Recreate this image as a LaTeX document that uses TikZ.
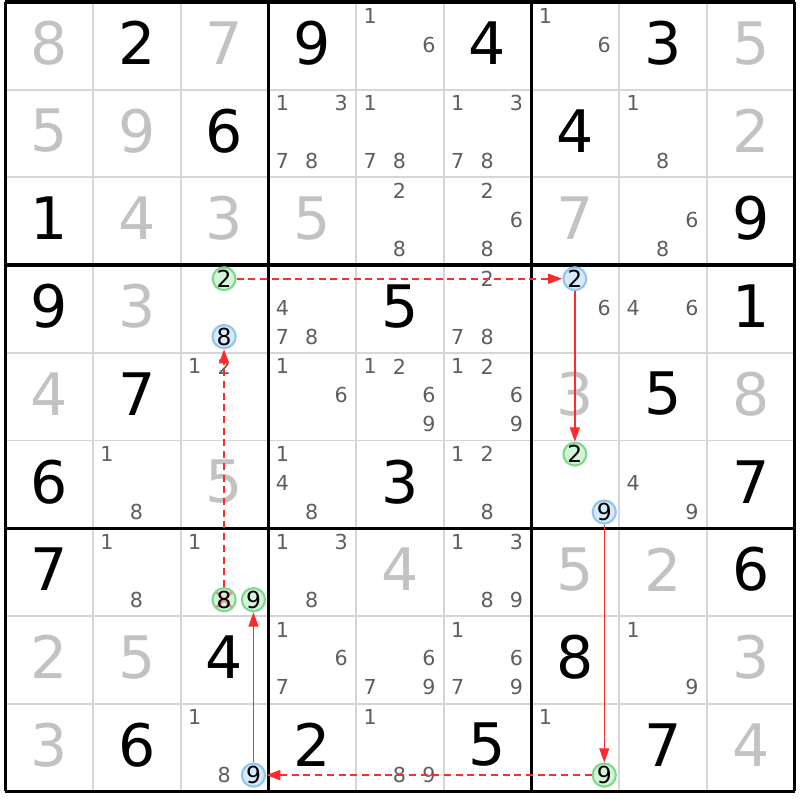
\documentclass[tikz,border=0pt]{standalone}
\usepackage{fontspec}
\setmainfont{DejaVu Sans}
\usetikzlibrary{arrows.meta}

\definecolor{linegray}{HTML}{D6D6D6}
\definecolor{solvedgray}{HTML}{C2C2C2}
\definecolor{candgray}{HTML}{5E5E5E}
\definecolor{ongreen}{HTML}{80D890}
\definecolor{ongreenfill}{HTML}{D4F4D8}
\definecolor{offblue}{HTML}{92C6F2}
\definecolor{offbluefill}{HTML}{D6EAFC}
\definecolor{linkred}{HTML}{FF2A2A}
\definecolor{cutred}{HTML}{F08C8C}

\tikzset{
  given/.style={font=\fontsize{19}{19}\selectfont, text=black, inner sep=0pt},
  solved/.style={given, text=solvedgray},
  cand/.style={font=\fontsize{6.7}{7}\selectfont, text=candgray, inner sep=0pt},
  oncand/.style={circle, draw=ongreen, fill=ongreenfill, line width=0.7pt, minimum size=0.25cm, inner sep=0pt, font=\fontsize{7.6}{8}\selectfont, text=black},
  offcand/.style={oncand, draw=offblue, fill=offbluefill},
  cutcand/.style={oncand, path picture={\draw[cutred, line width=0.8pt] (path picture bounding box.north west) -- (path picture bounding box.south east) (path picture bounding box.north east) -- (path picture bounding box.south west);}},
  strong/.style={linkred, line width=0.45pt, -{Triangle[length=4.6pt, width=3.2pt]}},
  weak/.style={strong, line width=0.6pt, dash pattern=on 2.3pt off 1.5pt}
}

\begin{document}
\begin{tikzpicture}
    \useasboundingbox (-0.06,-0.099) rectangle (9.062,9.023);
    \draw[linegray, line width=0.6pt] (0,0) grid (9,9);
    \draw[black, line width=1.1pt] (0,0) grid[step=3] (9,9);
    % givens
    \foreach \r/\c/\d in {1/2/2, 1/4/9, 1/6/4, 1/8/3, 2/3/6, 2/7/4, 3/1/1, 3/9/9,
        4/1/9, 4/5/5, 4/9/1, 5/2/7, 5/8/5, 6/1/6, 6/5/3, 6/9/7, 7/1/7, 7/9/6,
        8/3/4, 8/7/8, 9/2/6, 9/4/2, 9/6/5, 9/8/7}
      \node [given] (v\r\c) at (\c-0.5,9.53-\r) {\d};
    % solved
    \foreach \r/\c/\d in {1/1/8, 1/3/7, 1/9/5, 2/1/5, 2/2/9, 2/9/2, 3/2/4, 3/3/3, 3/4/5, 3/7/7,
        4/2/3, 5/1/4, 5/7/3, 5/9/8, 6/3/5, 7/5/4, 7/7/5, 7/8/2, 8/1/2, 8/2/5, 8/9/3,
        9/1/3, 9/9/4}
      \node [solved] (v\r\c) at (\c-0.5,9.53-\r) {\d};
    % candidates
    \foreach \r/\c/\list in {1/5/{1,6}, 1/7/{1,6}, 2/4/{1,3,7,8}, 2/5/{1,7,8}, 2/6/{1,3,7,8}, 2/8/{1,8},
        3/5/{2,8}, 3/6/{2,6,8}, 3/8/{6,8}, 4/4/{4,7,8}, 4/6/{2,7,8}, 4/7/{6}, 4/8/{4,6},
        5/3/{1,2}, 5/4/{1,6}, 5/5/{1,2,6,9}, 5/6/{1,2,6,9}, 6/2/{1,8}, 6/4/{1,4,8}, 6/6/{1,2,8}, 6/8/{4,9},
        7/2/{1,8}, 7/3/{1}, 7/4/{1,3,8}, 7/6/{1,3,8,9}, 8/4/{1,6,7}, 8/5/{6,7,9}, 8/6/{1,6,7,9}, 8/8/{1,9},
        9/3/{1,8}, 9/5/{1,8,9}, 9/7/{1}}
      \foreach \d in \list {
        \pgfmathsetmacro\px{\c-0.84+0.335*mod(\d-1,3)}
        \pgfmathsetmacro\py{9.845-\r-0.33*floor((\d-1)/3)}
        \node [cand] (p\r\c\d) at (\px,\py) {\d};
      }
    % chain
    \foreach \r/\c/\d/\s in {4/3/2/oncand, 4/3/8/offcand, 4/7/2/offcand, 6/7/2/oncand, 6/7/9/offcand,
        7/3/8/cutcand, 7/3/9/oncand, 9/3/9/offcand, 9/7/9/oncand} {
      \pgfmathsetmacro\px{\c-0.84+0.335*mod(\d-1,3)}
      \pgfmathsetmacro\py{9.845-\r-0.33*floor((\d-1)/3)}
      \node [\s] (k\r\c\d) at (\px,\py) {\d};
    }
    \draw[weak] (k738) -- (k438);
    \draw[weak] (k432) -- (k472);
    \draw[strong] (k472) -- (k672);
    \draw[strong] (k679) -- (k979);
    \draw[weak] (k979) -- (k939);
    \draw[strong] (k939) -- (k739);
\end{tikzpicture}
\end{document}
